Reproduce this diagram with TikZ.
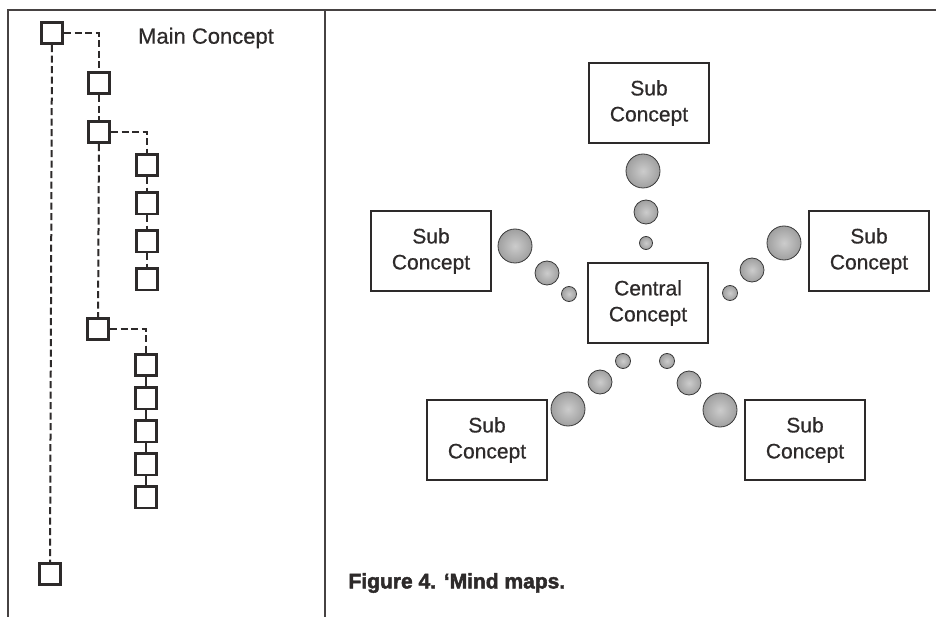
\documentclass[tikz,border=0pt]{standalone}
\usepackage{fontspec}
\setmainfont{Liberation Sans}[FakeBold=0.6]
\newfontfamily\capfont[FakeBold=2.2]{Liberation Sans Bold}
\usepackage{tikz}
\usetikzlibrary{positioning}
\definecolor{ink}{RGB}{45,42,42}
\definecolor{frame}{RGB}{70,66,66}

\begin{document}
\begin{tikzpicture}[x=1pt,y=-1pt,
  sq/.style={draw=ink,line width=2.6pt,minimum size=21.5pt,inner sep=0pt},
  dsh/.style={draw=ink,line width=2pt,dash pattern=on 7pt off 3.5pt},
  con/.style={draw=ink,line width=2pt,fill=white,minimum width=120pt,minimum height=80pt,inner sep=0pt,align=center,text=ink,font=\fontsize{21}{26}\selectfont},
  bub/.style={circle,inner sep=0pt,draw=gray!45!black,line width=0.8pt,inner color=gray!40,outer color=gray!75}]
  \useasboundingbox (0,0) rectangle (936,617);
  % frame
  \draw[frame,line width=2.4pt] (8,617) -- (8,10) -- (936,10);
  \draw[frame,line width=1.8pt] (325,10) -- (325,617);
  % left panel
  \node[sq] (a) at (52,33) {};
  \node[sq] (b) at (99,83) {};
  \node[sq] (c) at (99,132) {};
  \node[sq] (d1) at (147,165) {};
  \node[sq,below=14pt of d1] (d2) {};
  \node[sq,below=14pt of d2] (d3) {};
  \node[sq,below=14pt of d3] (d4) {};
  \node[sq] (e) at (98,329) {};
  \node[sq] (f1) at (146,365) {};
  \node[sq,below=9pt of f1] (f2) {};
  \node[sq,below=9pt of f2] (f3) {};
  \node[sq,below=9pt of f3] (f4) {};
  \node[sq,below=9pt of f4] (f5) {};
  \node[sq] (g) at (50,574) {};
  \node[text=ink,font=\fontsize{22}{26}\selectfont] (main) at (206,38) {Main Concept};
  \draw[dsh] (a.east) -| (b.north);
  \draw[dsh] (b) -- (c);
  \draw[dsh] (c.east) -| (d1.north);
  \draw[dsh] (c) -- (e);
  \draw[dsh] (e.east) -| (f1.north);
  \draw[dsh] (a) -- (g);
  \foreach \s/\t in {d1/d2,d2/d3,d3/d4}{\draw[dsh] (\s) -- (\t);}
  \foreach \s/\t in {f1/f2,f2/f3,f3/f4,f4/f5}{\draw[ink,line width=2pt] (\s) -- (\t);}
  % right panel
  \node[con] (top) at (649,103) {Sub\\Concept};
  \node[con] (lft) at (431,251) {Sub\\Concept};
  \node[con] (ctr) at (648,303) {Central\\Concept};
  \node[con] (rgt) at (869,251) {Sub\\Concept};
  \node[con] (bl) at (487,440) {Sub\\Concept};
  \node[con] (br) at (805,440) {Sub\\Concept};
  \foreach \n/\x/\y/\d in {t1/643/171/34,t2/646/212/24,t3/646/243/13,
      l1/515/246/34,l2/547/273/24,l3/569/294/15,
      r1/784/243/34,r2/752/270/24,r3/730/293/15,
      bl1/568/409/34,bl2/600/382/24,bl3/623/361/15,
      br1/720/410/34,br2/689/383/24,br3/667/361/15}{
    \node[bub,minimum size=\d pt] (\n) at (\x,\y) {};}
  \node[anchor=west,text=ink,font=\capfont\fontsize{21}{24}\selectfont] (cap) at (345,583) {Figure 4. ‘Mind maps.};
\end{tikzpicture}
\end{document}
